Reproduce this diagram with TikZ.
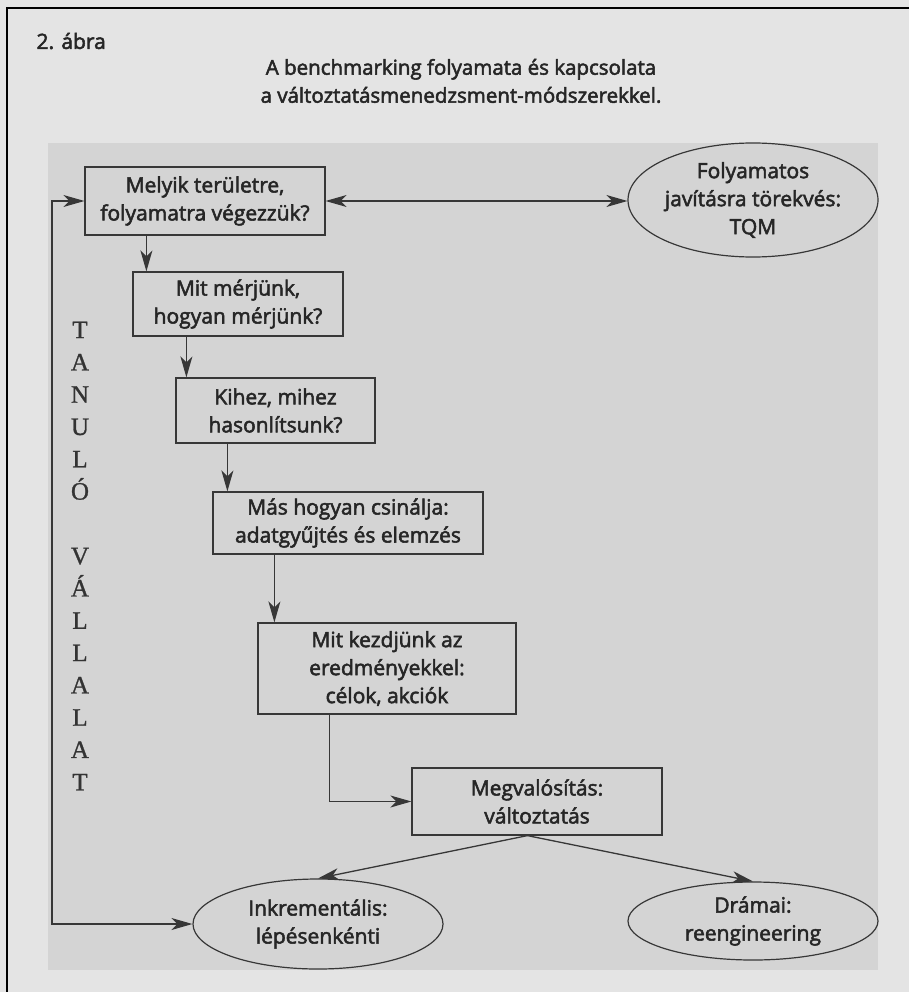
\documentclass[tikz,border=0pt]{standalone}
\usepackage{fontspec}
\setmainfont{Open Sans}[FakeBold=2.5]
\newfontfamily\tanfont{Liberation Serif}[FakeBold=1]
\usetikzlibrary{shapes.geometric,arrows.meta,positioning,calc}
\definecolor{inkgray}{RGB}{55,55,55}
\definecolor{panelgray}{RGB}{212,212,212}
\definecolor{palegray}{RGB}{228,228,228}

\begin{document}
\begin{tikzpicture}[x=1pt, y=-1pt, font=\fontsize{21}{28}\selectfont, >={Stealth[length=21pt,width=12pt,inset=6pt]},
    stepbox/.style={draw=inkgray, line width=1.2pt, align=center, inner sep=0pt, text=black!85},
    oval/.style={draw=inkgray, line width=1.2pt, ellipse, align=center, inner xsep=-12pt, inner ysep=0pt, minimum width=250pt, text=black!85},
    conn/.style={draw=inkgray, line width=1.3pt}]
    % background and frame
    \path[use as bounding box, fill=palegray] (0,0) rectangle (909,992);
    \fill[panelgray] (48,143) rectangle (878,970);
    \draw[black, line width=1.5pt] (909,8) -- (7,8) -- (7,992);

    \node[anchor=west, text=black!85] (fignum) at (33,41) {2. ábra};
    \node[align=center, text=black!85, font=\fontsize{20.5}{28}\selectfont] (title) at (461,81) {A benchmarking folyamata és kapcsolata\\a változtatásmenedzsment-módszerekkel.};

    % steps
    \node[stepbox, minimum width=240pt, minimum height=68pt] (where) at (205,201) {Melyik területre,\\folyamatra végezzük?};
    \node[stepbox, minimum width=210pt, minimum height=64pt] (measure) at (238,304) {Mit mérjünk,\\hogyan mérjünk?};
    \node[stepbox, minimum width=199pt, minimum height=65pt] (compare) at (275.5,410.5) {Kihez, mihez\\hasonlítsunk?};
    \node[stepbox, minimum width=270pt, minimum height=62pt] (collect) at (348,523) {Más hogyan csinálja:\\adatgyűjtés és elemzés};
    \node[stepbox, minimum width=258pt, minimum height=91pt] (results) at (387,668.5) {Mit kezdjünk az\\eredményekkel:\\célok, akciók};
    \node[stepbox, minimum width=250pt, minimum height=67pt] (change) at (537,801.5) {Megvalósítás:\\változtatás};

    % methods
    \node[oval, minimum height=114pt] (tqm) at (753,200) {Folyamatos\\javításra törekvés:\\TQM};
    \node[oval, minimum height=90pt] (incr) at (318,924) {Inkrementális:\\lépésenkénti};
    \node[oval, minimum height=78pt] (drama) at (753,921) {Drámai:\\reengineering};

    \node[font=\tanfont\fontsize{25}{32.3}\selectfont, align=center, text=black!80] (learn) at (80,556) {T\\A\\N\\U\\L\\Ó\\[32.3pt]V\\Á\\L\\L\\A\\L\\A\\T};
    \coordinate (loopbend) at (52,560);

    \draw[conn, <->] (where.east) -- (where.east -| tqm.west);
    \draw[conn, ->] ($(where.south west)+(62,0)$) -- ($(measure.north west)+(14,0)$);
    \draw[conn, ->] ($(measure.south west)+(54,0)$) -- ($(compare.north west)+(11,0)$);
    \draw[conn, ->] ($(compare.south west)+(52,0)$) -- ($(collect.north west)+(15,0)$);
    \draw[conn, ->] ($(collect.south west)+(62,0)$) -- ($(results.north west)+(17,0)$);
    \draw[conn, ->] ($(results.south west)+(72,0)$) |- (change.west);
    \draw[conn, ->] ($(change.south west)+(116,0)$) -- (incr.north);
    \draw[conn, ->] ($(change.south west)+(116,0)$) -- (drama.north);
    \draw[conn, <->] (incr.west) -| (loopbend) |- (where.west);
\end{tikzpicture}
\end{document}
